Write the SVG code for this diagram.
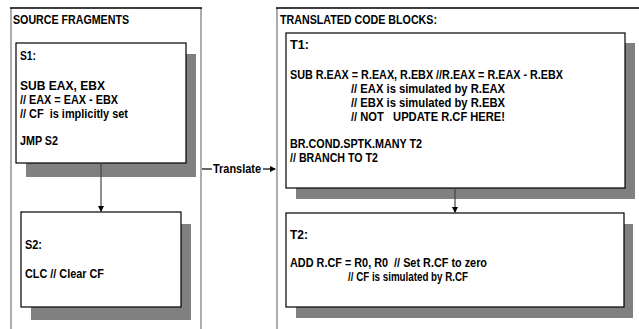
<svg xmlns="http://www.w3.org/2000/svg" width="639" height="329" viewBox="0 0 639 329">
<style>
text{font-family:"Liberation Sans Narrow","Arial Narrow","Liberation Sans",Arial,sans-serif;font-weight:bold;font-size:12px;fill:#000;white-space:pre}
.box{fill:#fff;stroke:#000;stroke-width:1.2}
.shadow{fill:#808080}
.side{stroke:#999;stroke-width:1.6;fill:none}
.top{stroke:#000;stroke-width:1.4;fill:none}
.conn{stroke:#444;stroke-width:1.2;fill:none}
</style>
<defs>
<marker id="ah" markerWidth="6" markerHeight="6" refX="5" refY="3" orient="auto" markerUnits="userSpaceOnUse">
<path d="M0,0 L6,3 L0,6 Z" fill="#000"/>
</marker>
</defs>
<rect width="639" height="329" fill="#fff"/>

<g id="source-panel">
<line class="side" x1="11" y1="8" x2="11" y2="329"/>
<line class="side" x1="201" y1="8" x2="201" y2="329"/>
<line class="top" x1="10" y1="8" x2="202" y2="8"/>
<text x="13" y="24" textLength="116" lengthAdjust="spacingAndGlyphs">SOURCE FRAGMENTS</text>
</g>

<g id="translated-panel">
<line class="side" x1="277" y1="8" x2="277" y2="329"/>
<line class="top" x1="276" y1="8" x2="639" y2="8"/>
<text x="280" y="24" textLength="157" lengthAdjust="spacingAndGlyphs">TRANSLATED CODE BLOCKS:</text>
</g>

<g id="S1">
<rect class="shadow" x="26" y="54" width="170" height="123"/>
<rect class="box" x="16" y="43" width="170" height="120"/>
<text x="20" y="60" textLength="16" lengthAdjust="spacingAndGlyphs">S1:</text>
<text x="20" y="90" textLength="85" lengthAdjust="spacingAndGlyphs">SUB EAX, EBX</text>
<text x="20" y="104" textLength="98" lengthAdjust="spacingAndGlyphs">// EAX = EAX - EBX</text>
<text x="20" y="118" textLength="108" lengthAdjust="spacingAndGlyphs">// CF  is implicitly set</text>
<text x="20" y="145" textLength="38" lengthAdjust="spacingAndGlyphs">JMP S2</text>
</g>

<g id="S2">
<rect class="shadow" x="31" y="224" width="160" height="96"/>
<rect class="box" x="21" y="212" width="160" height="95"/>
<text x="25" y="249" textLength="17" lengthAdjust="spacingAndGlyphs">S2:</text>
<text x="25" y="278" textLength="79" lengthAdjust="spacingAndGlyphs">CLC // Clear CF</text>
</g>

<g id="T1">
<rect class="shadow" x="296" y="43" width="339" height="156"/>
<rect class="box" x="286" y="33" width="339" height="155"/>
<text x="290" y="49" textLength="19" lengthAdjust="spacingAndGlyphs">T1:</text>
<text x="290" y="79" textLength="273" lengthAdjust="spacingAndGlyphs">SUB R.EAX = R.EAX, R.EBX //R.EAX = R.EAX - R.EBX</text>
<text x="351" y="93" textLength="154" lengthAdjust="spacingAndGlyphs">// EAX is simulated by R.EAX</text>
<text x="351" y="107" textLength="154" lengthAdjust="spacingAndGlyphs">// EBX is simulated by R.EBX</text>
<text x="351" y="121" textLength="154" lengthAdjust="spacingAndGlyphs">// NOT   UPDATE R.CF HERE!</text>
<text x="290" y="148" textLength="132" lengthAdjust="spacingAndGlyphs">BR.COND.SPTK.MANY T2</text>
<text x="290" y="162" textLength="88" lengthAdjust="spacingAndGlyphs">// BRANCH TO T2</text>
</g>

<g id="T2">
<rect class="shadow" x="296" y="224" width="337" height="94"/>
<rect class="box" x="286" y="213" width="338" height="94"/>
<text x="290" y="239" textLength="18" lengthAdjust="spacingAndGlyphs">T2:</text>
<text x="290" y="267" textLength="197" lengthAdjust="spacingAndGlyphs">ADD R.CF = R0, R0  // Set R.CF to zero</text>
<text x="348" y="281" textLength="120" lengthAdjust="spacingAndGlyphs">// CF is simulated by R.CF</text>
</g>

<g id="connectors">
<line class="conn" x1="101" y1="163" x2="101" y2="211" marker-end="url(#ah)"/>
<line class="conn" x1="455" y1="188" x2="455" y2="212" marker-end="url(#ah)"/>
<line class="conn" x1="202" y1="169" x2="212" y2="169" style="stroke:#000"/>
<text x="213" y="173" textLength="48" lengthAdjust="spacingAndGlyphs">Translate</text>
<line class="conn" x1="263" y1="169" x2="275" y2="169" style="stroke:#000" marker-end="url(#ah)"/>
</g>
</svg>
